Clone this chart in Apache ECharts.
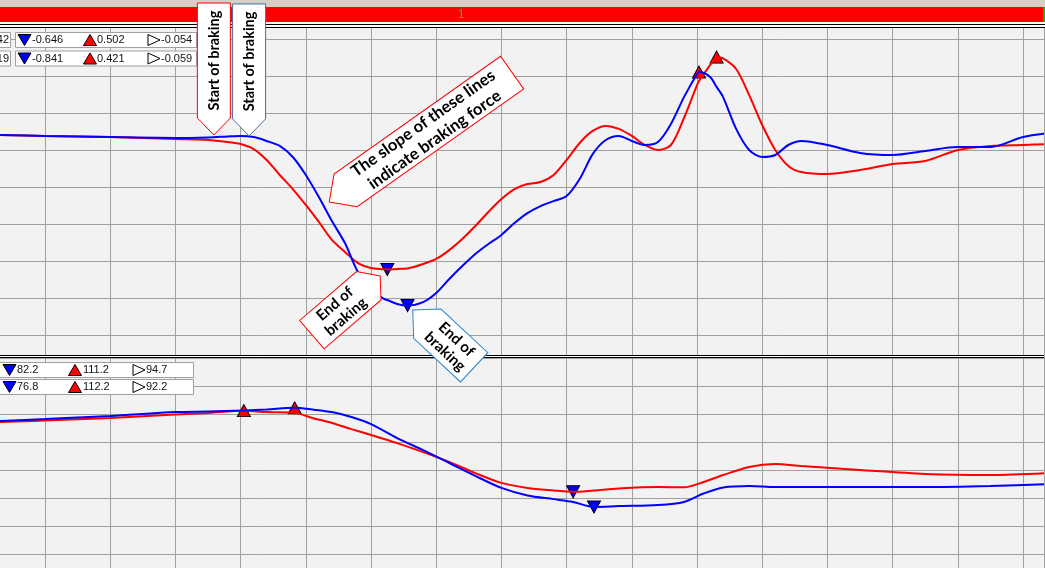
<!DOCTYPE html>
<html><head><meta charset="utf-8">
<script src="https://cdn.jsdelivr.net/npm/echarts@6/dist/echarts.min.js"></script>
<style>html,body{margin:0;padding:0;background:#fff}#c{width:1045px;height:568px}</style>
</head><body><div id="c"></div>
<script>
// ---- data (distance in m, longitudinal accel in g, speed in km/h) ----
const distTop = [-7,0,10,20,25,28,30,32,34,36,38,40,42,44,46,48,50,52,52.5,54,55.6,58,60,62,64,66,68,70,72,74,76,78,80,82,84,86,88,90,92,94,96,98,100,100.3,102,103,104,106,108,110,112,114,116,120,125,130,135,140,145,150,154];
const accelRed = [0.081,0.076,0.070,0.059,0.054,0.043,0.032,0.005,-0.054,-0.135,-0.211,-0.297,-0.389,-0.486,-0.551,-0.611,-0.638,-0.644,-0.646,-0.643,-0.640,-0.616,-0.589,-0.541,-0.481,-0.411,-0.335,-0.265,-0.211,-0.184,-0.173,-0.135,-0.054,0.038,0.103,0.130,0.114,0.076,0.027,0.000,0.027,0.173,0.351,0.373,0.459,0.502,0.495,0.438,0.297,0.135,0.000,-0.086,-0.119,-0.130,-0.108,-0.076,-0.059,0.000,0.022,0.027,0.032];
const accelBlue = [0.081,0.076,0.070,0.065,0.068,0.073,0.076,0.070,0.049,0.022,-0.038,-0.135,-0.254,-0.384,-0.503,-0.660,-0.757,-0.805,-0.811,-0.832,-0.841,-0.822,-0.773,-0.697,-0.627,-0.562,-0.508,-0.459,-0.395,-0.341,-0.303,-0.276,-0.249,-0.157,-0.022,0.054,0.076,0.049,0.027,0.043,0.141,0.286,0.411,0.421,0.395,0.341,0.286,0.114,0.000,-0.038,-0.027,0.027,0.049,0.027,-0.016,-0.027,-0.005,0.016,0.016,0.070,0.092];
const distBot = [-7,0,10,20,25,30.5,34,38.3,41,44,47,50,54,58,62,66,70,74,78,81,84.2,88,94,98,101,104,108,112,116,125,135,145,154];
const speedRed = [107.1,107.7,108.6,109.8,110.4,111.2,110.7,110.4,108.6,106.8,104.6,102.5,99.6,96.4,92.9,88.9,85.4,83.6,82.7,82.2,82.7,83.4,83.9,83.8,85.7,88.2,91.1,92.1,91.4,90.0,88.6,88.2,88.9];
const speedBlue = [107.5,108.2,109.3,110.7,110.9,111.25,111.6,112.2,111.6,110.7,108.9,106.4,101.4,97.1,92.5,87.9,83.6,80.9,79.6,78.6,76.8,77.1,77.5,78.6,81.6,83.75,84.3,83.9,83.9,83.9,83.9,84.3,85.0];
// legend readouts: [cut-off label, min, max, avg]
const legendTopRows = [["42","-0.646","0.502","-0.054"],["19","-0.841","0.421","-0.059"]];
const legendBotRows = [["82.2","111.2","94.7"],["76.8","112.2","92.2"]];
const barLabel = "1";
// annotations: anchor point in data units (grid 1 = top panel)
const notes = [
  {text:"Start of braking", grid:1, x:25.9, y:0.081, color:"#ff0000"},
  {text:"Start of braking", grid:1, x:31.3, y:0.076, color:"#41719c"},
  {text:"The slope of these lines\nindicate braking force", grid:1, x:43.6, y:-0.281, color:"#ff0000"},
  {text:"End of\nbraking", grid:1, x:51.4, y:-0.681, color:"#ff0000"},
  {text:"End of\nbraking", grid:1, x:56.4, y:-0.865, color:"#2e86c8"}
];
// shape styles for the annotations (angle deg CCW, tip, body length, width)
const noteShapes = [
  {angle:-90, tip:17, len:115, w:33, flip:true, lh:18, fs:14.5},
  {angle:-90, tip:17, len:115, w:33, flip:true, lh:18, fs:14.5},
  {angle:215.3, tip:20, len:204, w:40, flip:true, lh:20, fs:16.5},
  {angle:40.7, tip:15, len:75, w:37.5, flip:false, lh:17, fs:15},
  {angle:137, tip:20, len:64, w:40, flip:true, lh:17, fs:15}
];

const chart = echarts.init(document.getElementById('c'), null, {renderer:'canvas'});
const XMIN = -10, XMAX = 153.37;
const GL = -20.2, GW = 1065.2;
const gridColor = '#a0a0a0';
const hiddenAxis = {axisLine:{show:false}, axisTick:{show:false}, axisLabel:{show:false}};
function pairs(xs, ys){ return xs.map((x,i)=>[x, ys[i]]); }
const mp = {
  symbolSize:[13,12], label:{show:false},
  data:[
    {type:'max', valueDim:'y', symbol:'triangle', itemStyle:{color:'#ff0000', borderColor:'#000', borderWidth:1}},
    {type:'min', valueDim:'y', symbol:'triangle', symbolRotate:180, itemStyle:{color:'#0000ff', borderColor:'#000', borderWidth:1}}
  ]
};
function line(name, xi, yi, xs, ys, color){
  return {type:'line', name, xAxisIndex:xi, yAxisIndex:yi, data:pairs(xs, ys), showSymbol:false, symbol:'none',
    smooth:0.3, lineStyle:{color, width:2}, itemStyle:{color}, markPoint:mp, z:5, animation:false};
}
chart.setOption({
  animation:false,
  backgroundColor:'#ffffff',
  grid:[
    {left:GL, width:GW, top:28, height:540, show:true, backgroundColor:'#f2f2f2', borderWidth:0, outerBoundsMode:'none', containLabel:false},
    {left:GL, width:GW, top:2, height:333, outerBoundsMode:'none', containLabel:false},
    {left:GL, width:GW, top:358, height:224, outerBoundsMode:'none', containLabel:false}
  ],
  xAxis:[
    Object.assign({type:'value', gridIndex:0, min:XMIN, max:XMAX, interval:10, splitLine:{show:true, lineStyle:{color:gridColor, width:1}}}, hiddenAxis),
    Object.assign({type:'value', gridIndex:1, min:XMIN, max:XMAX, interval:10, splitLine:{show:false}}, hiddenAxis),
    Object.assign({type:'value', gridIndex:2, min:XMIN, max:XMAX, interval:10, splitLine:{show:false}}, hiddenAxis)
  ],
  yAxis:[
    Object.assign({type:'value', gridIndex:0, min:0, max:1, splitLine:{show:false}}, hiddenAxis),
    Object.assign({type:'value', gridIndex:1, min:-1.0, max:0.8, interval:0.2, splitLine:{show:true, lineStyle:{color:gridColor, width:1}}}, hiddenAxis),
    Object.assign({type:'value', gridIndex:2, min:50, max:130, interval:10, splitLine:{show:true, lineStyle:{color:gridColor, width:1}}}, hiddenAxis)
  ],
  series:[
    line('accel red', 1, 1, distTop, accelRed, '#ff0000'),
    line('accel blue', 1, 1, distTop, accelBlue, '#0000ff'),
    line('speed red', 2, 2, distBot, speedRed, '#ff0000'),
    line('speed blue', 2, 2, distBot, speedBlue, '#0000ff')
  ]
});

// ---------- decorations ----------
const G = [];
const Z = 100;
function rect(x,y,w,h,fill,extra){ G.push(Object.assign({type:'rect', z:Z, shape:{x,y,width:w,height:h}, style:{fill}}, extra||{})); }
rect(0,0,1045,7,'#d4d0c8');
rect(0,7,1045,15,'#ff0000');
rect(1043,7,2,15,'#00c000');
G.push({type:'text', z:Z+1, x:461, y:15, style:{text:barLabel, fill:'#40b030', font:'12px "Liberation Sans"', align:'center', verticalAlign:'middle'}});
rect(0,22,1045,6,'#ffffff');
rect(0,24,1045,1,'#000000');
rect(0,27,1045,1,'#000000');
rect(0,355,1045,1,'#000000');
rect(0,356,1045,1,'#ffffff');
rect(0,357,1045,1,'#000000');
rect(1044,28,1,540,'#a0a0a0');

function tri(kind, cx, cy){
  let pts, fill;
  if(kind==='down'){ pts=[[cx-6.5,cy-5.5],[cx+6.5,cy-5.5],[cx,cy+5.5]]; fill='#0000ff'; }
  else if(kind==='up'){ pts=[[cx-6.5,cy+5.5],[cx+6.5,cy+5.5],[cx,cy-5.5]]; fill='#ff0000'; }
  else { pts=[[cx-6,cy-5.5],[cx+6,cy],[cx-6,cy+5.5]]; fill='#ffffff'; }
  G.push({type:'polygon', z:Z+1, shape:{points:pts}, style:{fill, stroke:'#000', lineWidth:1}});
}
function txt(s, x, y, align){
  G.push({type:'text', z:Z+1, x, y, style:{text:s, fill:'#111', font:'11px "Liberation Sans"', align:align||'left', verticalAlign:'middle'}});
}
function box(x,y,w,h){ G.push({type:'rect', z:Z, shape:{x,y,width:w,height:h}, style:{fill:'#ffffff', stroke:'#a0a0a0', lineWidth:1}}); }
legendTopRows.forEach((r,i)=>{
  const y = 32.5 + i*18.5, cy = y+7.5;
  box(-5.5, y, 16, 15);
  txt(r[0], 9, cy, 'right');
  box(15.5, y, 181, 15);
  tri('down', 24.5, cy); txt(r[1], 32, cy);
  tri('up', 90, cy); txt(r[2], 97, cy);
  tri('right', 154, cy); txt(r[3], 161, cy);
});
legendBotRows.forEach((r,i)=>{
  const y = 362.5 + i*17, cy = y+7.5;
  box(-0.5, y, 194, 15);
  tri('down', 9.5, cy); txt(r[0], 17, cy);
  tri('up', 75, cy); txt(r[1], 83, cy);
  tri('right', 139, cy); txt(r[2], 146, cy);
});

notes.forEach((n,i)=>{
  const s = noteShapes[i];
  const p = chart.convertToPixel({gridIndex:n.grid}, [n.x, n.y]);
  const t=s.tip, L=s.len, w=s.w/2;
  G.push({type:'group', z:Z+5, x:p[0], y:p[1], rotation:s.angle*Math.PI/180, children:[
    {type:'polygon', z:Z+5, shape:{points:[[0,0],[-t,-w],[-t-L,-w],[-t-L,w],[-t,w]]}, style:{fill:'#ffffff', stroke:n.color, lineWidth:1}},
    {type:'text', z:Z+6, x:-t-L/2, y:0, rotation:s.flip?Math.PI:0, style:{text:n.text, fill:'#000', font:'bold '+s.fs+'px Lato', align:'center', verticalAlign:'middle', lineHeight:s.lh}}
  ]});
});
chart.setOption({graphic:{elements:G}});
</script></body></html>
